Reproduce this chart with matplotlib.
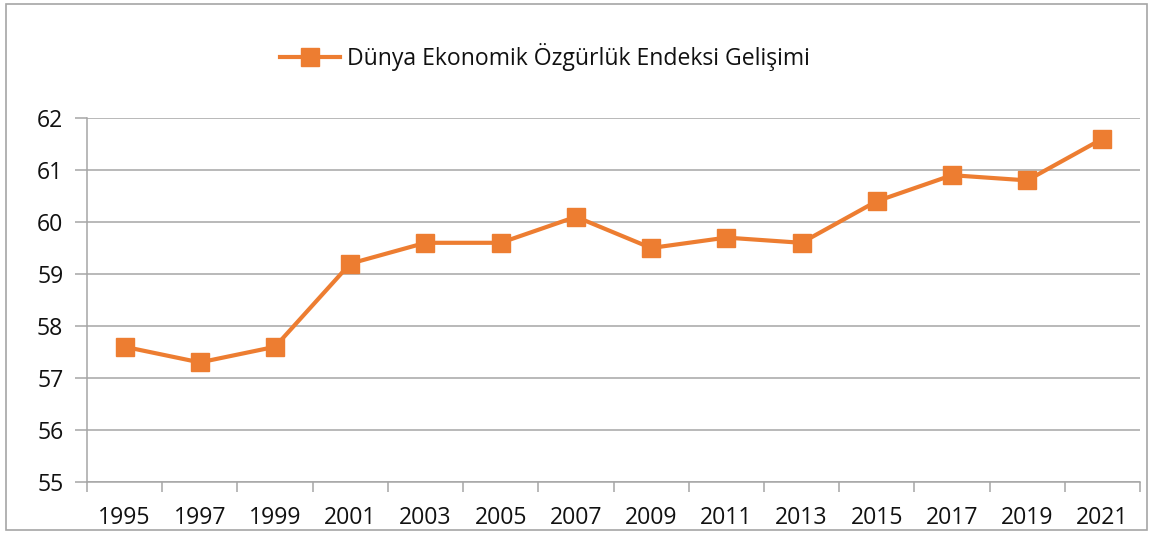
import matplotlib.pyplot as plt
from matplotlib.patches import Rectangle
import numpy as np

plt.rcParams['font.family'] = ['Open Sans', 'DejaVu Sans']

# Data
years = ['1995', '1997', '1999', '2001', '2003', '2005', '2007',
         '2009', '2011', '2013', '2015', '2017', '2019', '2021']
values = [57.6, 57.3, 57.6, 59.2, 59.6, 59.6, 60.1,
          59.5, 59.7, 59.6, 60.4, 60.9, 60.8, 61.6]
series_name = 'Dünya Ekonomik Özgürlük Endeksi Gelişimi'

W, H = 1149, 534
fig = plt.figure(figsize=(W / 100, H / 100), dpi=100)

# Outer chart frame
fig.patches.append(Rectangle((6 / W, 4 / H), 1141 / W, 526 / H, transform=fig.transFigure,
                             fill=False, edgecolor='#a6a6a6', linewidth=1.2))

ax = fig.add_axes([87 / W, 1 - 482 / H, (1140 - 87) / W, (482 - 118) / H])

orange = '#ed7d31'
grid = '#a6a6a6'
fs = 16.6
x = np.arange(len(years))
ax.plot(x, values, color=orange, linewidth=3, marker='s', markersize=12.5,
        label=series_name)

ax.set_xlim(-0.5, len(years) - 0.5)
ax.set_ylim(55, 62)
ax.set_yticks(range(55, 63))
ax.yaxis.grid(True, color=grid, linewidth=1.1)
ax.set_axisbelow(True)

ax.set_xticks(x)
ax.set_xticklabels(years)
ax.set_xticks(np.arange(-0.5, len(years)), minor=True)
ax.tick_params(axis='x', which='major', length=0, pad=17, labelsize=fs, labelcolor='#111111')
ax.tick_params(axis='x', which='minor', length=7, color=grid, width=1.1)
ax.tick_params(axis='y', length=9, color=grid, width=1.1, pad=8, labelsize=fs, labelcolor='#111111')

for side in ['top', 'right']:
    ax.spines[side].set_visible(False)
for side in ['left', 'bottom']:
    ax.spines[side].set_color(grid)
    ax.spines[side].set_linewidth(1.1)

leg = fig.legend(loc='center', bbox_to_anchor=(545 / W, 1 - 57 / H), frameon=False,
                 fontsize=fs, handlelength=2.6, handletextpad=0.3)
for t in leg.get_texts():
    t.set_color('#111111')

fig.savefig('out.png', dpi=100)
